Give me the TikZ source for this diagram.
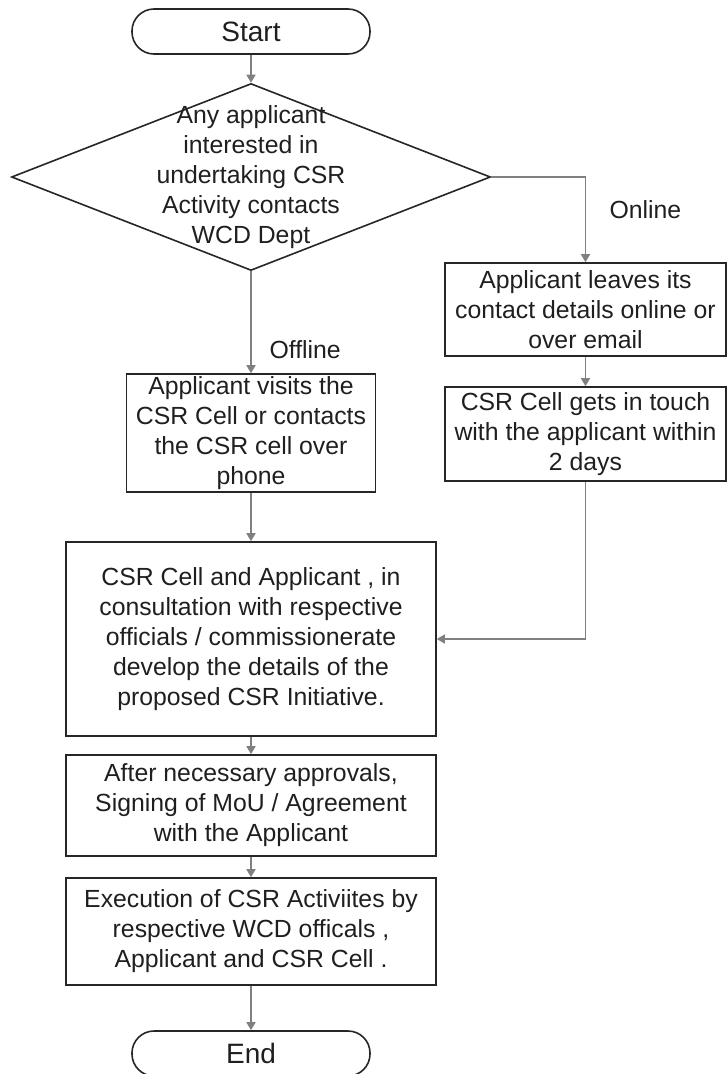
\documentclass[tikz,border=0pt]{standalone}
\usepackage{fontspec}
\setmainfont{Liberation Sans}
\usetikzlibrary{shapes, arrows.meta}
\definecolor{boxline}{HTML}{262626}
\definecolor{flowline}{HTML}{808080}

\begin{document}
\begin{tikzpicture}[x=1pt, y=-1pt,
        every node/.style={font=\fontsize{24.8}{30}\selectfont, text=black!88, align=center},
        process/.style={draw=boxline, line width=1.6pt, inner sep=0pt},
        terminal/.style={draw=boxline, line width=1.6pt, rounded corners=22pt, minimum width=238pt, minimum height=45pt, font=\fontsize{28}{30}\selectfont},
        decision/.style={draw=boxline, line width=1.6pt, diamond, inner sep=0pt},
        flow/.style={draw=flowline, line width=1.6pt, -{Triangle[width=9pt,length=8pt]}}]
        \useasboundingbox (0,0) rectangle (727,1074);

        \node[terminal] (start) at (251,31.5) {Start};
        \node[decision, minimum width=479pt, minimum height=187pt] (ask) at (251,177) {};
        \node (asktext) at (ask.center) {Any applicant\\interested in\\undertaking CSR\\Activity contacts\\WCD Dept};

        \node[process, minimum width=281pt, minimum height=93pt] (leaves) at (585.5,309.5) {Applicant leaves its\\contact details online or\\over email};
        \node[process, minimum width=281pt, minimum height=94pt] (touch) at (585.5,434) {CSR Cell gets in touch\\with the applicant within\\2 days};
        \node[process, minimum width=249pt, minimum height=118pt] (visits) at (251,433) {Applicant visits the\\CSR Cell or contacts\\the CSR cell over\\phone};

        \node[process, minimum width=370pt, minimum height=194pt] (develop) at (251,639) {CSR Cell and Applicant , in\\consultation with respective\\officials / commissionerate\\develop the details of the\\proposed CSR Initiative.};
        \node[process, minimum width=370pt, minimum height=101pt] (approve) at (251,805.5) {After necessary approvals,\\Signing of MoU / Agreement\\with the Applicant};
        \node[process, minimum width=370pt, minimum height=107pt] (execute) at (251,931.5) {Execution of CSR Activiites by\\respective WCD officals ,\\Applicant and CSR Cell .};
        \node[terminal] (end) at (251,1053.5) {End};

        \node[anchor=west] (online) at (606,210) {Online};
        \node[anchor=west] (offline) at (266,350) {Offline};

        \draw[flow] (start) -- (ask);
        \draw[flow] (ask.east) -| (leaves.north);
        \draw[flow] (leaves) -- (touch);
        \draw[flow] (touch.south) |- (develop.east);
        \draw[flow] (ask.south) -- (visits.north);
        \draw[flow] (visits) -- (develop);
        \draw[flow] (develop) -- (approve);
        \draw[flow] (approve) -- (execute);
        \draw[flow] (execute) -- (end);

    \end{tikzpicture}
\end{document}
